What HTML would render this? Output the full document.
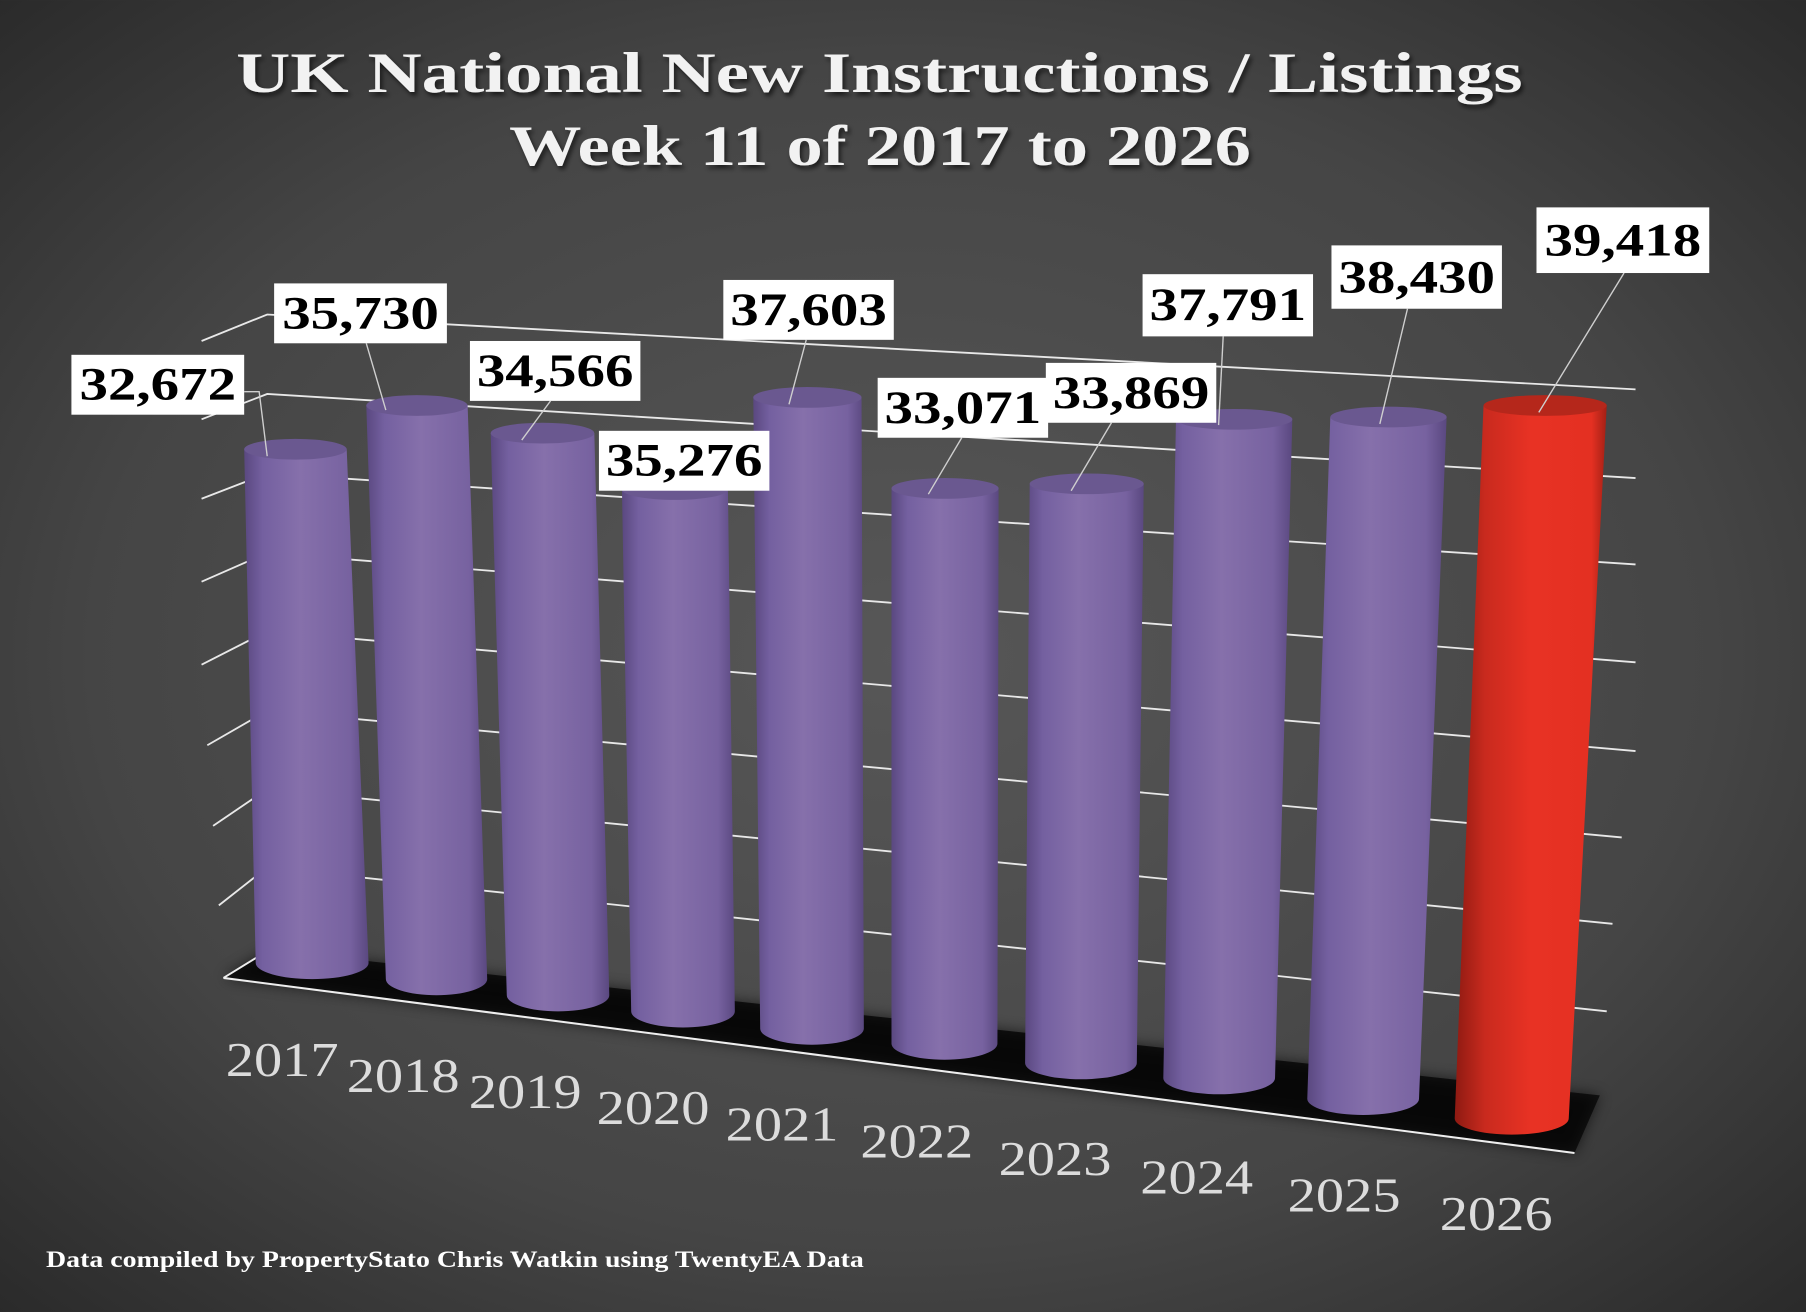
<!DOCTYPE html>
<html><head><meta charset="utf-8"><style>
html,body{margin:0;padding:0;background:#3a3a3a}
svg{display:block}
</style></head><body>
<svg width="1806" height="1312" viewBox="0 0 1568 1139" xmlns="http://www.w3.org/2000/svg">
<defs>
<radialGradient id="bg" cx="0.5" cy="0.5" r="0.75">
<stop offset="0" stop-color="#575757"/><stop offset="0.6" stop-color="#454545"/><stop offset="1" stop-color="#262626"/>
</radialGradient>
<linearGradient id="pu" x1="0" x2="1" y1="0" y2="0">
<stop offset="0" stop-color="#5a4880"/><stop offset="0.15" stop-color="#7460a0"/><stop offset="0.45" stop-color="#8670ab"/><stop offset="0.85" stop-color="#7762a0"/><stop offset="1" stop-color="#5a4880"/>
</linearGradient>
<linearGradient id="rd" x1="0" x2="1" y1="0" y2="0">
<stop offset="0" stop-color="#8e1a12"/><stop offset="0.2" stop-color="#c92a1e"/><stop offset="0.5" stop-color="#e83224"/><stop offset="0.9" stop-color="#e43022"/><stop offset="1" stop-color="#a32015"/>
</linearGradient>
<filter id="blur"><feGaussianBlur stdDeviation="6"/></filter>
<filter id="ts"><feDropShadow dx="2" dy="3" stdDeviation="2" flood-color="#000" flood-opacity="0.6"/></filter>
</defs>
<rect width="1568" height="1139" fill="url(#bg)"/>
<g font-family="'Liberation Serif',serif" font-weight="bold" fill="#f2f2f2" filter="url(#ts)">
<text x="205" y="80" font-size="50" textLength="1117" lengthAdjust="spacingAndGlyphs">UK National New Instructions / Listings</text>
<text x="442" y="143" font-size="50" textLength="644" lengthAdjust="spacingAndGlyphs">Week 11 of 2017 to 2026</text>
</g>
<g stroke="#e8e8e8" stroke-width="1.6" fill="none">
<polyline points="175,296 232,273 1420,338"/>
<polyline points="175,364 232,342 1420,415"/>
<polyline points="175,433 232,411 1420,490"/>
<polyline points="175,505 232,480 1420,575"/>
<polyline points="175,577 232,548 1420,652"/>
<polyline points="180,647 232,617 1408,727"/>
<polyline points="185,717 232,685 1400,802"/>
<polyline points="190,786 232,753 1395,878"/>
</g>
<polygon points="194,849 233,825 1389,951 1367,1001" fill="#141414"/>
<polygon points="194,849 233,825 1389,951 1367,1001" fill="#000" filter="url(#blur)" opacity="0.6"/>
<polyline points="194,849 233,825" stroke="#eee" stroke-width="1.6" fill="none"/>
<line x1="194" y1="849" x2="1367" y2="1001" stroke="#eee" stroke-width="1.8"/>
<g>
<path d="M212,390 L222,836 A49,14 0 0 0 320,836 L301,390 Z" fill="url(#pu)"/><ellipse cx="256.5" cy="390" rx="44.5" ry="9" fill="#6a5890"/>
<path d="M318,352 L335,850 A44,14 0 0 0 423,850 L406,352 Z" fill="url(#pu)"/><ellipse cx="362" cy="352" rx="44" ry="9" fill="#6a5890"/>
<path d="M426,376 L440,864 A44.5,14 0 0 0 529,864 L516,376 Z" fill="url(#pu)"/><ellipse cx="471" cy="376" rx="45" ry="9" fill="#6a5890"/>
<path d="M540,425 L548,878 A45,14 0 0 0 638,878 L632,425 Z" fill="url(#pu)"/><ellipse cx="586" cy="425" rx="46" ry="9" fill="#6a5890"/>
<path d="M654,345 L660,893 A45,14 0 0 0 750,893 L748,345 Z" fill="url(#pu)"/><ellipse cx="701" cy="345" rx="47" ry="9" fill="#6a5890"/>
<path d="M774,424 L774,906 A46,14 0 0 0 866,906 L867,424 Z" fill="url(#pu)"/><ellipse cx="820.5" cy="424" rx="46.5" ry="9" fill="#6a5890"/>
<path d="M894,420 L890,923 A48.5,14 0 0 0 987,923 L993,420 Z" fill="url(#pu)"/><ellipse cx="943.5" cy="420" rx="49.5" ry="9" fill="#6a5890"/>
<path d="M1021,364 L1010,936 A48.5,14 0 0 0 1107,936 L1122,364 Z" fill="url(#pu)"/><ellipse cx="1071.5" cy="364" rx="50.5" ry="9" fill="#6a5890"/>
<path d="M1155,362 L1135,954 A48.5,14 0 0 0 1232,954 L1256,362 Z" fill="url(#pu)"/><ellipse cx="1205.5" cy="362" rx="50.5" ry="9" fill="#6a5890"/>
<path d="M1288,352 L1263,971 A49.5,14 0 0 0 1362,971 L1395,352 Z" fill="url(#rd)"/><ellipse cx="1341.5" cy="352" rx="53.5" ry="9" fill="#b5271b"/>
</g>
<g stroke="#cfcfcf" stroke-width="1.2" fill="none">
<polyline points="212,340 225,340 232,396"/>
<line x1="318" y1="298" x2="335" y2="356"/>
<line x1="478" y1="348" x2="453" y2="382"/>
<line x1="700" y1="295" x2="685" y2="351"/>
<line x1="835" y1="380" x2="806" y2="429"/>
<line x1="965" y1="367" x2="930" y2="426"/>
<line x1="1062" y1="292" x2="1058" y2="369"/>
<line x1="1222" y1="268" x2="1198" y2="368"/>
<line x1="1410" y1="237" x2="1336" y2="358"/>
</g>
<g font-family="'Liberation Serif',serif" font-weight="bold" font-size="40" fill="#000">
<rect x="62" y="308" width="150" height="52" fill="#fff"/><text x="69" y="347" textLength="136" lengthAdjust="spacingAndGlyphs">32,672</text>
<rect x="238" y="246" width="150" height="52" fill="#fff"/><text x="245" y="285" textLength="136" lengthAdjust="spacingAndGlyphs">35,730</text>
<rect x="408" y="296" width="148" height="52" fill="#fff"/><text x="414" y="335" textLength="136" lengthAdjust="spacingAndGlyphs">34,566</text>
<rect x="520" y="374" width="148" height="52" fill="#fff"/><text x="526" y="413" textLength="136" lengthAdjust="spacingAndGlyphs">35,276</text>
<rect x="628" y="243" width="148" height="52" fill="#fff"/><text x="634" y="282" textLength="136" lengthAdjust="spacingAndGlyphs">37,603</text>
<rect x="762" y="328" width="148" height="52" fill="#fff"/><text x="768" y="367" textLength="136" lengthAdjust="spacingAndGlyphs">33,071</text>
<rect x="908" y="315" width="148" height="52" fill="#fff"/><text x="914" y="354" textLength="136" lengthAdjust="spacingAndGlyphs">33,869</text>
<rect x="992" y="238" width="148" height="54" fill="#fff"/><text x="998" y="278" textLength="136" lengthAdjust="spacingAndGlyphs">37,791</text>
<rect x="1156" y="213" width="148" height="55" fill="#fff"/><text x="1162" y="254" textLength="136" lengthAdjust="spacingAndGlyphs">38,430</text>
<rect x="1334" y="180" width="150" height="57" fill="#fff"/><text x="1341" y="222" textLength="136" lengthAdjust="spacingAndGlyphs">39,418</text>
</g>
<g font-family="'Liberation Serif',serif" font-size="42" fill="#dcdcdc">
<text x="196" y="934" textLength="98" lengthAdjust="spacingAndGlyphs">2017</text>
<text x="301" y="948" textLength="98" lengthAdjust="spacingAndGlyphs">2018</text>
<text x="407" y="962" textLength="98" lengthAdjust="spacingAndGlyphs">2019</text>
<text x="518" y="976" textLength="98" lengthAdjust="spacingAndGlyphs">2020</text>
<text x="630" y="990" textLength="98" lengthAdjust="spacingAndGlyphs">2021</text>
<text x="747" y="1005" textLength="98" lengthAdjust="spacingAndGlyphs">2022</text>
<text x="867" y="1020" textLength="98" lengthAdjust="spacingAndGlyphs">2023</text>
<text x="990" y="1036" textLength="98" lengthAdjust="spacingAndGlyphs">2024</text>
<text x="1118" y="1052" textLength="98" lengthAdjust="spacingAndGlyphs">2025</text>
<text x="1250" y="1068" textLength="98" lengthAdjust="spacingAndGlyphs">2026</text>
</g>
<text x="40" y="1100" font-family="'Liberation Serif',serif" font-weight="bold" font-size="20" fill="#fff" textLength="710" lengthAdjust="spacingAndGlyphs">Data compiled by PropertyStato Chris Watkin using TwentyEA Data</text>
</svg>
</body></html>
